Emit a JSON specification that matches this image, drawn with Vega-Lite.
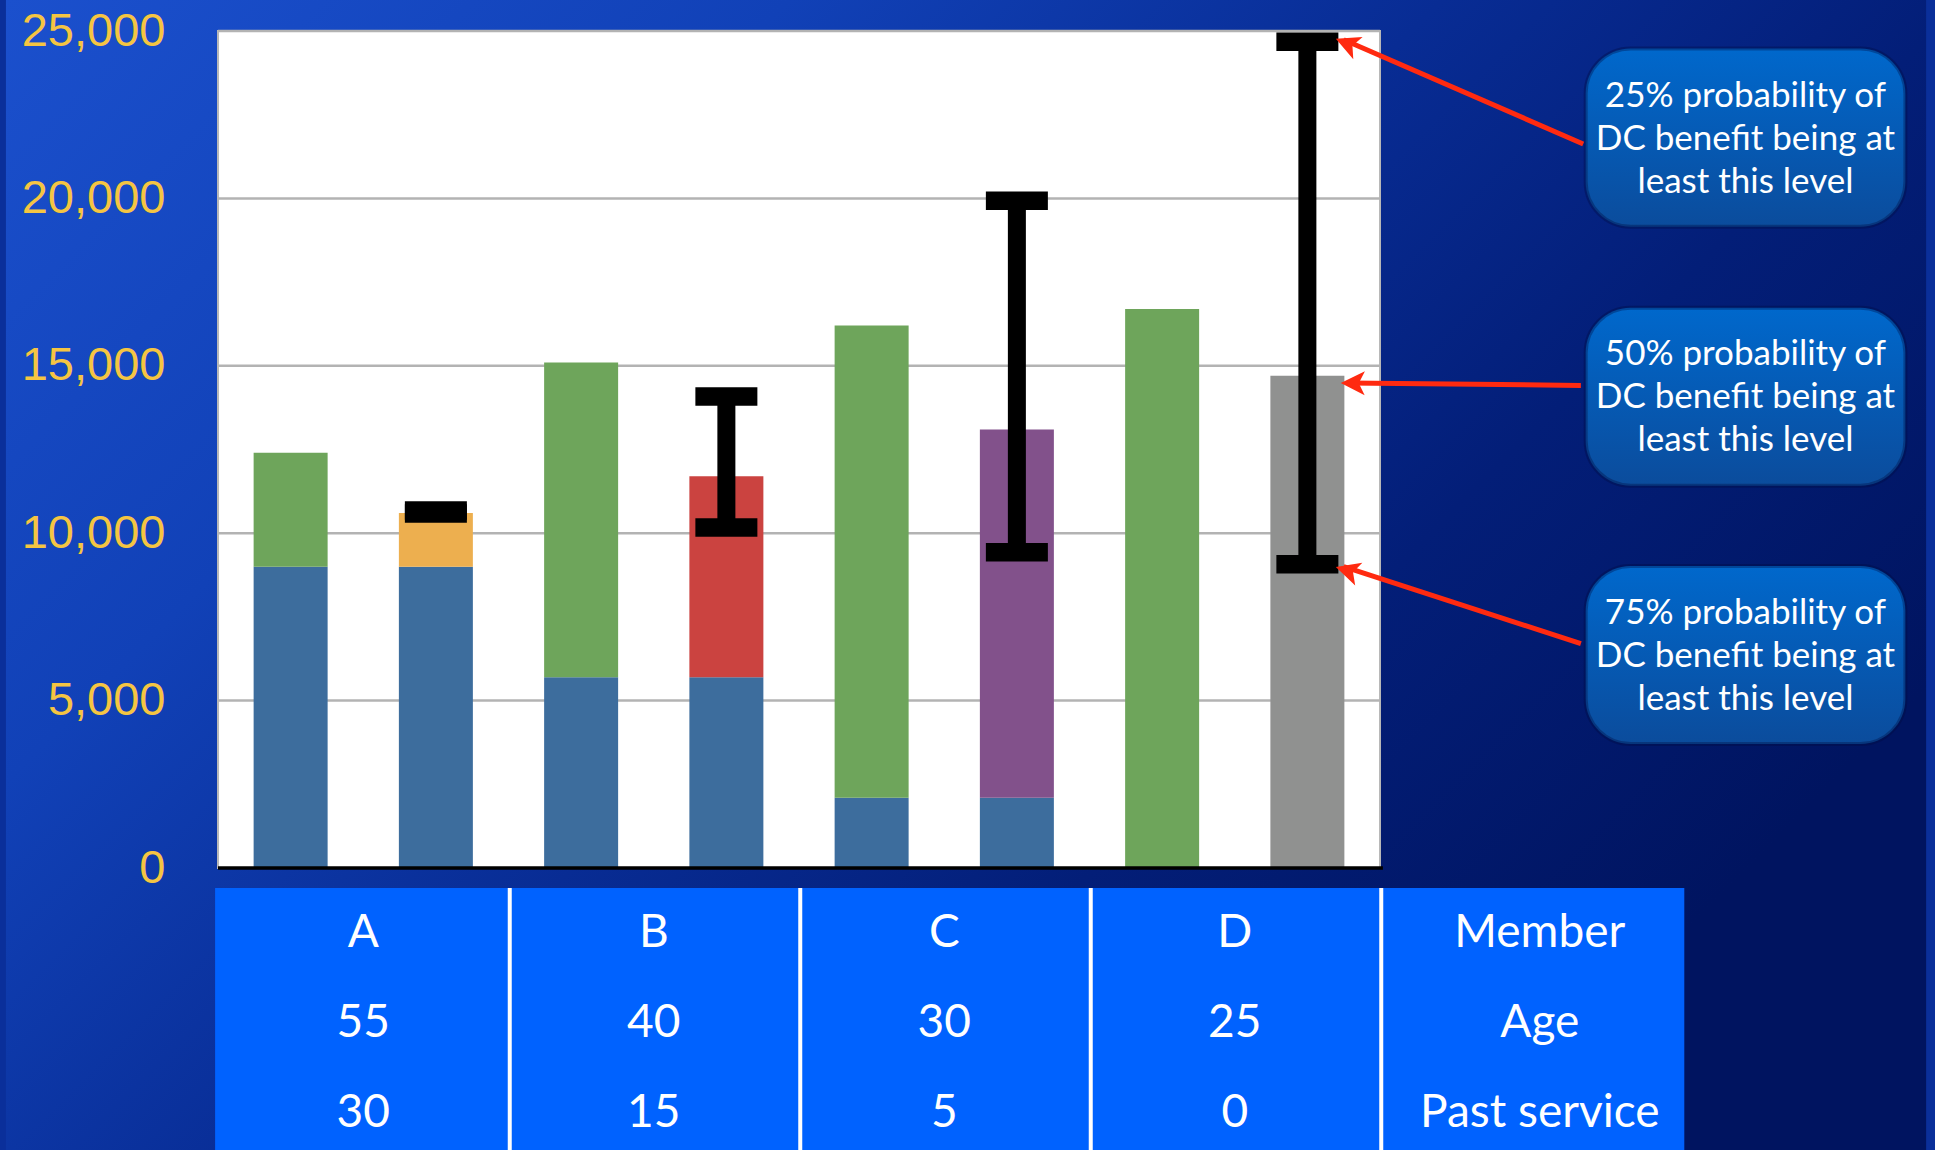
{
"$schema":"https://vega.github.io/schema/vega-lite/v6.json",
"width":1172,"height":837,
"autosize":{"type":"none"},
"padding":{"left":213,"top":31,"right":550,"bottom":282},
"background":"#0a2f9a",
"config":{
 "view":{"stroke":null},
 "font":"Lato",
 "numberFormat":",",
 "axisX":{"disable":true},
 "axisY":{"grid":false,"domain":false,"ticks":false,"labelFont":"Liberation Sans","labelFontSize":47,"labelColor":"#f5c542","labelPadding":48,"labelFlush":false,"labelOverlap":false,"labelBound":false,"zindex":1}
},
"datasets":{
 "bars":[
  {"bar":0,"member":"A","age":"55","service":"30","part":"accrued","series":"Past service","value":9000},
  {"bar":0,"member":"A","age":"55","service":"30","part":"future","series":"DB","value":3400},
  {"bar":1,"member":"A","age":"55","service":"30","part":"accrued","series":"Past service","value":9000},
  {"bar":1,"member":"A","age":"55","service":"30","part":"future","series":"DC A","value":1600},
  {"bar":2,"member":"B","age":"40","service":"15","part":"accrued","series":"Past service","value":5700},
  {"bar":2,"member":"B","age":"40","service":"15","part":"future","series":"DB","value":9400},
  {"bar":3,"member":"B","age":"40","service":"15","part":"accrued","series":"Past service","value":5700},
  {"bar":3,"member":"B","age":"40","service":"15","part":"future","series":"DC B","value":6000},
  {"bar":4,"member":"C","age":"30","service":"5","part":"accrued","series":"Past service","value":2100},
  {"bar":4,"member":"C","age":"30","service":"5","part":"future","series":"DB","value":14100},
  {"bar":5,"member":"C","age":"30","service":"5","part":"accrued","series":"Past service","value":2100},
  {"bar":5,"member":"C","age":"30","service":"5","part":"future","series":"DC C","value":11000},
  {"bar":6,"member":"D","age":"25","service":"0","part":"future","series":"DB","value":16700},
  {"bar":7,"member":"D","age":"25","service":"0","part":"future","series":"DC D","value":14700}
 ],
 "errors":[
  {"bar":1,"lo":10590,"hi":10675},
  {"bar":3,"lo":10170,"hi":14080},
  {"bar":5,"lo":9430,"hi":19930},
  {"bar":7,"lo":9070,"hi":24680}
 ],
 "grid":[{"v":5000},{"v":10000},{"v":15000},{"v":20000},{"v":25000}]
},
"layer":[
 {"data":{"values":[{}]},
  "mark":{"type":"rect","fill":{"gradient":"linear","x1":0,"y1":0,"x2":1,"y2":0.6,"stops":[{"offset":0,"color":"#1b50cd"},{"offset":0.3,"color":"#1141b7"},{"offset":0.55,"color":"#082c94"},{"offset":0.75,"color":"#031e78"},{"offset":1,"color":"#001460"}]}},
  "encoding":{"x":{"datum":-1.96},"x2":{"datum":11.26},"y":{"datum":25930},"y2":{"datum":-8430}}},
 {"data":{"values":[{}]},
  "mark":{"type":"rect","fill":"white","stroke":"#b8b8b8","strokeWidth":2},
  "encoding":{"x":{"datum":-0.5},"x2":{"datum":7.5},"y":{"datum":0},"y2":{"datum":25000}}},
 {"data":{"name":"grid"},
  "mark":{"type":"rule","color":"#b3b3b3","strokeWidth":2.5},
  "encoding":{"y":{"field":"v","type":"quantitative","title":null},"x":{"datum":-0.5},"x2":{"datum":7.5}}},
 {"data":{"name":"bars"},
  "transform":[{"stack":"value","groupby":["bar"],"sort":[{"field":"part","order":"ascending"}],"as":["lo","hi"]}],
  "mark":{"type":"bar","size":74,"orient":"vertical"},
  "encoding":{
   "x":{"field":"bar","type":"quantitative","scale":{"domain":[-0.5,7.5],"nice":false,"zero":false},"axis":null},
   "y":{"field":"lo","type":"quantitative","title":null,"scale":{"domain":[0,25000],"nice":false,"zero":false},"axis":{"values":[0,5000,10000,15000,20000,25000],"format":",","labelExpr":"format(datum.value, ',')","title":null,"zindex":2,"grid":false,"domain":false,"ticks":false,"labelFont":"Liberation Sans","labelFontSize":47,"labelColor":"#f5c542","labelPadding":48,"labelFlush":false}},
   "y2":{"field":"hi"},
   "color":{"field":"series","type":"nominal","legend":null,"scale":{"domain":["Past service","DB","DC A","DC B","DC C","DC D"],"range":["#3d6d9d","#6ea55b","#edaf4f","#cb4340","#82518b","#909190"]}}
  }},
 {"data":{"values":[{}]},
  "mark":{"type":"rule","color":"black","strokeWidth":3.5},
  "encoding":{"x":{"datum":-0.5},"x2":{"datum":7.52},"y":{"datum":0}}},
 {"data":{"name":"errors"},
  "mark":{"type":"rule","color":"black","strokeWidth":18,"strokeCap":"butt"},
  "encoding":{"x":{"field":"bar","type":"quantitative"},"y":{"field":"lo","type":"quantitative","title":null},"y2":{"field":"hi"}}},
 {"data":{"name":"errors"},
  "transform":[{"fold":["lo","hi"],"as":["end","level"]}],
  "mark":{"type":"tick","orient":"horizontal","size":62,"thickness":18.5,"color":"black","opacity":1},
  "encoding":{"x":{"field":"bar","type":"quantitative"},"y":{"field":"level","type":"quantitative","title":null}}},
 {"data":{"values":[{}]},
  "mark":{"type":"rect","fill":"#0062ff"},
  "encoding":{"x":{"datum":-0.52},"x2":{"datum":9.595},"y":{"datum":-597},"y2":{"datum":-8800}}},
 {"data":{"name":"bars"},
  "transform":[{"aggregate":[{"op":"mean","field":"bar","as":"center"}],"groupby":["member","age","service"]}],
  "mark":{"type":"rule","color":"white","strokeWidth":4},
  "encoding":{"x":{"field":"center","type":"quantitative"},"xOffset":{"value":146.5},"y":{"datum":-597},"y2":{"datum":-8800}}},
 {"data":{"name":"bars"},
  "transform":[{"aggregate":[{"op":"mean","field":"bar","as":"center"}],"groupby":["member","age","service"]}],
  "mark":{"type":"text","font":"Lato","fontSize":46,"color":"white","align":"center","baseline":"middle"},
  "encoding":{"x":{"field":"center","type":"quantitative"},"y":{"datum":-1941},"text":{"field":"member","type":"nominal"}}},
 {"data":{"name":"bars"},
  "transform":[{"aggregate":[{"op":"mean","field":"bar","as":"center"}],"groupby":["member","age","service"]}],
  "mark":{"type":"text","font":"Lato","fontSize":46,"color":"white","align":"center","baseline":"middle"},
  "encoding":{"x":{"field":"center","type":"quantitative"},"y":{"datum":-4630},"text":{"field":"age","type":"nominal"}}},
 {"data":{"name":"bars"},
  "transform":[{"aggregate":[{"op":"mean","field":"bar","as":"center"}],"groupby":["member","age","service"]}],
  "mark":{"type":"text","font":"Lato","fontSize":46,"color":"white","align":"center","baseline":"middle"},
  "encoding":{"x":{"field":"center","type":"quantitative"},"y":{"datum":-7318},"text":{"field":"service","type":"nominal"}}},
 {"data":{"values":[{}]},
  "mark":{"type":"text","text":"Member","font":"Lato","fontSize":46,"color":"white","align":"center","baseline":"middle"},
  "encoding":{"x":{"datum":8.6},"y":{"datum":-1941}}},
 {"data":{"values":[{}]},
  "mark":{"type":"text","text":"Age","font":"Lato","fontSize":46,"color":"white","align":"center","baseline":"middle"},
  "encoding":{"x":{"datum":8.6},"y":{"datum":-4630}}},
 {"data":{"values":[{}]},
  "mark":{"type":"text","text":"Past service","font":"Lato","fontSize":46,"color":"white","align":"center","baseline":"middle"},
  "encoding":{"x":{"datum":8.6},"y":{"datum":-7318}}},
 {"data":{"values":[{}]},
  "mark":{"type":"rect","cornerRadius":45,"stroke":"#000c40","strokeOpacity":0.35,"strokeWidth":4,"fill":{"gradient":"linear","x1":0,"y1":0,"x2":0,"y2":1,"stops":[{"offset":0,"color":"#0068cc"},{"offset":1,"color":"#0b4c9c"}]}},
  "encoding":{"x":{"datum":8.916},"x2":{"datum":11.117},"y":{"datum":24478},"y2":{"datum":19150}}},
 {"data":{"values":[{}]},
  "mark":{"type":"rect","cornerRadius":45,"stroke":"#000c40","strokeOpacity":0.35,"strokeWidth":4,"fill":{"gradient":"linear","x1":0,"y1":0,"x2":0,"y2":1,"stops":[{"offset":0,"color":"#0068cc"},{"offset":1,"color":"#0b4c9c"}]}},
  "encoding":{"x":{"datum":8.916},"x2":{"datum":11.117},"y":{"datum":16733},"y2":{"datum":11419}}},
 {"data":{"values":[{}]},
  "mark":{"type":"rect","cornerRadius":45,"stroke":"#000c40","strokeOpacity":0.35,"strokeWidth":4,"fill":{"gradient":"linear","x1":0,"y1":0,"x2":0,"y2":1,"stops":[{"offset":0,"color":"#0068cc"},{"offset":1,"color":"#0b4c9c"}]}},
  "encoding":{"x":{"datum":8.916},"x2":{"datum":11.117},"y":{"datum":9021},"y2":{"datum":3704}}},
 {"data":{"values":[{}]},
  "mark":{"type":"text","text":["25% probability of","DC benefit being at","least this level"],"font":"Lato","fontSize":35,"lineHeight":43,"color":"white","align":"center","baseline":"middle"},
  "encoding":{"x":{"datum":10.016},"y":{"datum":23060}}},
 {"data":{"values":[{}]},
  "mark":{"type":"text","text":["50% probability of","DC benefit being at","least this level"],"font":"Lato","fontSize":35,"lineHeight":43,"color":"white","align":"center","baseline":"middle"},
  "encoding":{"x":{"datum":10.016},"y":{"datum":15340}}},
 {"data":{"values":[{}]},
  "mark":{"type":"text","text":["75% probability of","DC benefit being at","least this level"],"font":"Lato","fontSize":35,"lineHeight":43,"color":"white","align":"center","baseline":"middle"},
  "encoding":{"x":{"datum":10.016},"y":{"datum":7630}}},
 {"data":{"values":[{}]},
  "mark":{"type":"rule","color":"#ff2a10","strokeWidth":5},
  "encoding":{"x":{"datum":8.899},"y":{"datum":21625},"x2":{"datum":7.25},"y2":{"datum":24740}}},
 {"data":{"values":[{}]},
  "mark":{"type":"rule","color":"#ff2a10","strokeWidth":5},
  "encoding":{"x":{"datum":8.883},"y":{"datum":14415},"x2":{"datum":7.28},"y2":{"datum":14484}}},
 {"data":{"values":[{}]},
  "mark":{"type":"rule","color":"#ff2a10","strokeWidth":5},
  "encoding":{"x":{"datum":8.883},"y":{"datum":6700},"x2":{"datum":7.25},"y2":{"datum":9000}}},
 {"data":{"values":[{}]},
  "mark":{"type":"point","shape":"M0,0L2,-1L1.5,0L2,1Z","size":576,"filled":true,"opacity":1,"color":"#ff2a10","angle":22.9},
  "encoding":{"x":{"datum":7.196},"y":{"datum":24767}}},
 {"data":{"values":[{}]},
  "mark":{"type":"point","shape":"M0,0L2,-1L1.5,0L2,1Z","size":576,"filled":true,"opacity":1,"color":"#ff2a10","angle":0.6},
  "encoding":{"x":{"datum":7.23},"y":{"datum":14486}}},
 {"data":{"values":[{}]},
  "mark":{"type":"point","shape":"M0,0L2,-1L1.5,0L2,1Z","size":576,"filled":true,"opacity":1,"color":"#ff2a10","angle":17.3},
  "encoding":{"x":{"datum":7.196},"y":{"datum":8990}}}
]
}
